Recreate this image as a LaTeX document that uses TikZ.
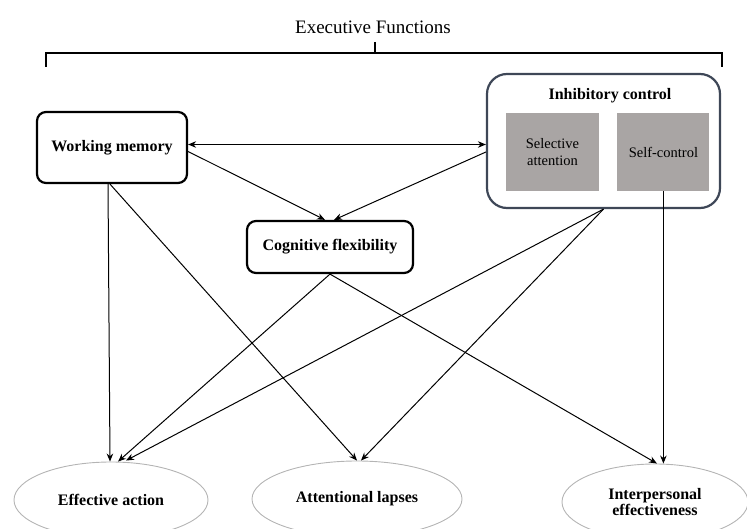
\documentclass[tikz,border=0pt]{standalone}
\usepackage{fontspec}
\setmainfont{Liberation Serif}
\usepackage{tikz}
\usetikzlibrary{shapes.geometric, arrows.meta, calc, positioning}
\definecolor{slateborder}{HTML}{3E4757}
\definecolor{boxgray}{HTML}{A9A5A4}
\definecolor{ovalgray}{HTML}{B4B4B4}
\tikzstyle{efbox} = [rectangle, rounded corners=9pt, line width=2.2pt, draw=black, align=center, font=\fontsize{16}{18.5}\selectfont\bfseries]
\tikzstyle{subbox} = [rectangle, fill=boxgray, align=center, font=\fontsize{14.5}{17}\selectfont]
\tikzstyle{outcome} = [ellipse, line width=0.9pt, draw=ovalgray, align=center, font=\fontsize{16}{18.5}\selectfont\bfseries]
\tikzstyle{arrow} = [line width=1pt, -{Stealth[length=8pt,width=6.5pt]}]

\begin{document}
\begin{tikzpicture}[x=1pt, y=-1pt]
		\useasboundingbox (0,0) rectangle (747,529);
		% header and bracket
		\node (Title) at (373,27) [font=\fontsize{19}{22}\selectfont] {Executive Functions};
		\coordinate (BracketTop) at (375,42);
		\coordinate (BracketMid) at (375,53);
		\coordinate (BracketLeft) at (46,67);
		\coordinate (BracketRight) at (722,67);
		\draw [line width=2pt] (BracketLeft) |- (BracketMid) -| (BracketRight);
		\draw [line width=2pt] (BracketTop) -- (BracketMid);
		% executive functions
		\node (WorkingMemory) [efbox, minimum width=150pt, minimum height=71pt] at (112,147.5) {Working memory};
		\node (InhibitoryControl) [efbox, draw=slateborder, rounded corners=20pt, minimum width=233pt, minimum height=134pt] at (603.5,141) {};
		\node (InhibitoryTitle) at (610,96) [font=\fontsize{16}{18.5}\selectfont\bfseries] {Inhibitory control};
		\node (SelectiveAttention) [subbox, minimum width=93pt, minimum height=78pt] at (552.5,152) {Selective\\attention};
		\node (SelfControl) [subbox, minimum width=92pt, minimum height=78pt, right = 18pt of SelectiveAttention] {Self-control};
		\node (CognitiveFlexibility) [efbox, minimum width=166pt, minimum height=52pt] at (330,247) {Cognitive flexibility};
		% outcomes
		\node (EffectiveAction) [outcome, minimum width=194pt, minimum height=76pt] at (111,500) {Effective action};
		\node (AttentionalLapses) [outcome, minimum width=210pt, minimum height=76pt] at (357,499) {Attentional lapses};
		\node (InterpersonalEffectiveness) [outcome, minimum width=186pt, minimum height=76pt] at (655,502) {Interpersonal\\[-2pt]effectiveness};
		% links
		\draw [arrow, {Stealth[length=8pt,width=6.5pt]}-{Stealth[length=8pt,width=6.5pt]}] ([yshift=3pt]WorkingMemory.east) -- ([yshift=3pt]WorkingMemory.east -| InhibitoryControl.west);
		\draw [arrow] ([yshift=-4pt]WorkingMemory.east) -- ([xshift=-5pt]CognitiveFlexibility.north);
		\draw [arrow] ([yshift=-11pt]InhibitoryControl.west) -- ([xshift=4pt]CognitiveFlexibility.north);
		\draw [arrow] ([xshift=-4pt]WorkingMemory.south) -- ([xshift=-1pt]EffectiveAction.north);
		\draw [arrow] ([xshift=-2pt]WorkingMemory.south) -- (AttentionalLapses.north);
		\draw [arrow] (CognitiveFlexibility.south) -- ([xshift=7pt]EffectiveAction.north);
		\draw [arrow] (CognitiveFlexibility.south) -- ([xshift=2pt]InterpersonalEffectiveness.north);
		\draw [arrow] (InhibitoryControl.south) -- ([xshift=15pt,yshift=1pt]EffectiveAction.north);
		\draw [arrow] (InhibitoryControl.south) -- ([xshift=4pt]AttentionalLapses.north);
		\draw [arrow] (SelfControl.south) -- (SelfControl.south |- InterpersonalEffectiveness.north);
\end{tikzpicture}
\end{document}
